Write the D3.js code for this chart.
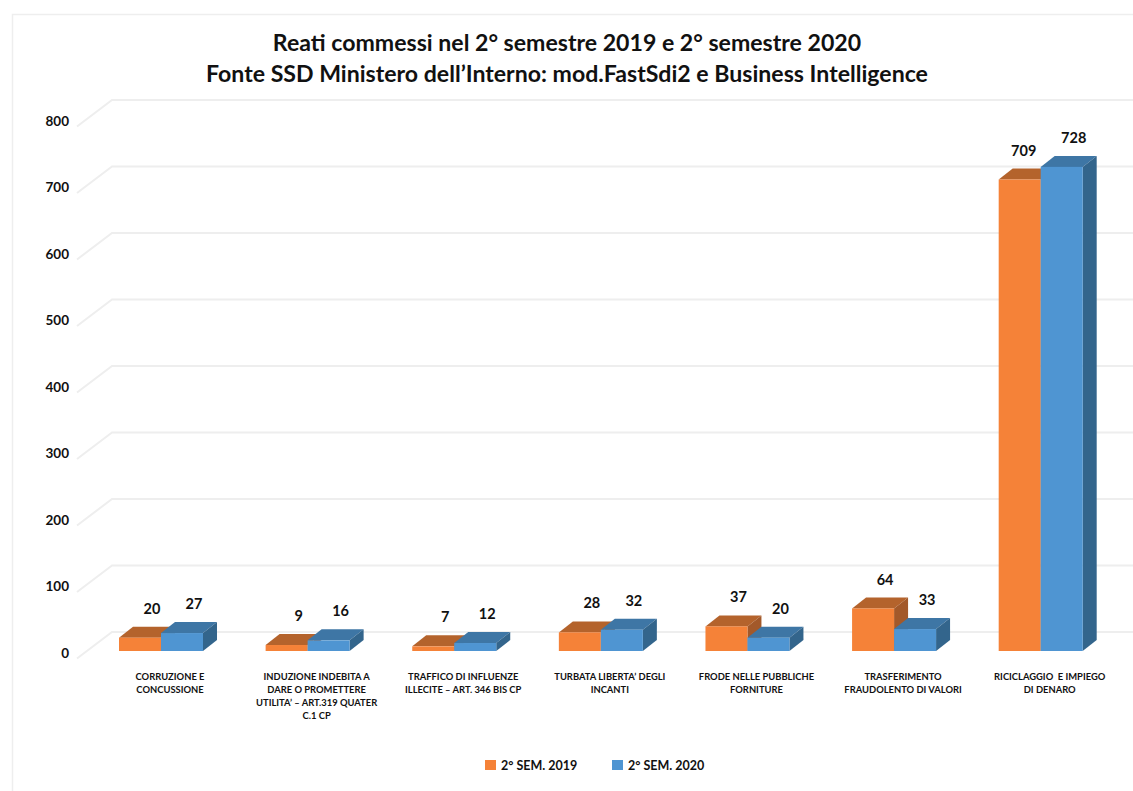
<!DOCTYPE html>
<html><head><meta charset="utf-8">
<script src="https://cdn.jsdelivr.net/npm/d3@7"></script>
<style>
html,body{margin:0;padding:0;background:#fff}
svg{display:block}
text{font-family:Lato,"Open Sans",sans-serif;font-weight:700;fill:#111}
</style></head><body>
<svg id="c" width="1133" height="791"></svg>
<script>
const titleLines = ["Reati commessi nel 2° semestre 2019 e 2° semestre 2020",
  "Fonte SSD Ministero dell’Interno: mod.FastSdi2 e Business Intelligence"];
const categories = ["CORRUZIONE E|CONCUSSIONE",
  "INDUZIONE INDEBITA A|DARE O PROMETTERE|UTILITA’ – ART.319 QUATER|C.1 CP",
  "TRAFFICO DI INFLUENZE|ILLECITE – ART. 346 BIS CP",
  "TURBATA LIBERTA’ DEGLI|INCANTI",
  "FRODE NELLE PUBBLICHE|FORNITURE",
  "TRASFERIMENTO|FRAUDOLENTO DI VALORI",
  "RICICLAGGIO  E IMPIEGO|DI DENARO"];
const seriesNames = ["2° SEM. 2019","2° SEM. 2020"];
const sem2019 = [20,9,7,28,37,64,709];
const sem2020 = [27,16,12,32,20,33,728];
const yTicks = [0,100,200,300,400,500,600,700,800];

const palette = [
  {front:"#F58238",top:"#B4632C",side:"#A3592A"},
  {front:"#4F95D2",top:"#3E76A5",side:"#33658C"}
];
const depth = {x:14,y:-11};
const svg = d3.select("#c");

const y = d3.scaleLinear().domain([0,800]).range([651,119]);
const x0 = d3.scaleBand().domain(categories).range([87.7,1114]).paddingInner(0).paddingOuter(0);
const barW = 42;
const cx = c => x0(c)+x0.bandwidth()/2;

// frame of the picture
svg.append("path").attr("d","M12.5,791V14.5H1133").attr("fill","none").attr("stroke","#eeeeee").attr("stroke-width",1.5);

// grid: floor-side diagonal plus back wall line
const grid = svg.append("g").attr("fill","none").attr("stroke","#eeeeee").attr("stroke-width",2);
yTicks.forEach(t=>{
  grid.append("path").attr("d",`M77,${y(t)+7.5}L112,${y(t)-19}H1133`);
});

// y axis
const yAxis = svg.append("g").attr("transform","translate(69,2)")
  .call(d3.axisLeft(y).tickValues(yTicks).tickSize(0).tickPadding(0));
yAxis.select(".domain").remove();
yAxis.selectAll("text").style("font-size","13.5px").style("font-family","Lato,'Open Sans',sans-serif").attr("fill","#111");

// bars
const poly = pts => pts.map(p=>p.join(",")).join(" ");
categories.forEach((c,i)=>{
  const g = svg.append("g");
  [sem2019[i],sem2020[i]].forEach((v,s)=>{
    const l = cx(c)-barW+s*barW, r=l+barW, t=y(v), b=y(0), p=palette[s];
    g.append("polygon").attr("points",poly([[l,t],[l+depth.x,t+depth.y],[r+depth.x,t+depth.y],[r,t]])).attr("fill",p.top);
    g.append("polygon").attr("points",poly([[r,t],[r+depth.x,t+depth.y],[r+depth.x,b+depth.y],[r,b]])).attr("fill",p.side);
    g.append("rect").attr("x",l).attr("y",t).attr("width",barW).attr("height",b-t).attr("fill",p.front);
  });
});

// value labels
categories.forEach((c,i)=>{
  [sem2019[i],sem2020[i]].forEach((v,s)=>{
    const center = cx(c)-barW/2+s*barW;
    const dx = (v===709)?4:12;
    svg.append("text").attr("x",center+dx).attr("y",y(v)-29).attr("dy","0.35em")
      .attr("text-anchor","middle").style("font-size","14.5px").text(v);
  });
});

// category labels
categories.forEach(c=>{
  const t = svg.append("text").attr("text-anchor","middle").style("font-size","9.4px").style("white-space","pre");
  c.split("|").forEach((line,k)=>{
    t.append("tspan").attr("x",cx(c)+9).attr("y",679.5+k*13).text(line);
  });
});

// title
titleLines.forEach((l,k)=>{
  svg.append("text").attr("x",567).attr("y",51+k*31).attr("text-anchor","middle")
    .style("font-size","23.1px").text(l);
});

// legend
const legendX = [485,612];
seriesNames.forEach((n,s)=>{
  svg.append("rect").attr("x",legendX[s]).attr("y",760).attr("width",11).attr("height",10).attr("fill",palette[s].front);
  svg.append("text").attr("x",legendX[s]+16).attr("y",770).style("font-size","12.5px").text(n);
});
</script>
</body></html>
